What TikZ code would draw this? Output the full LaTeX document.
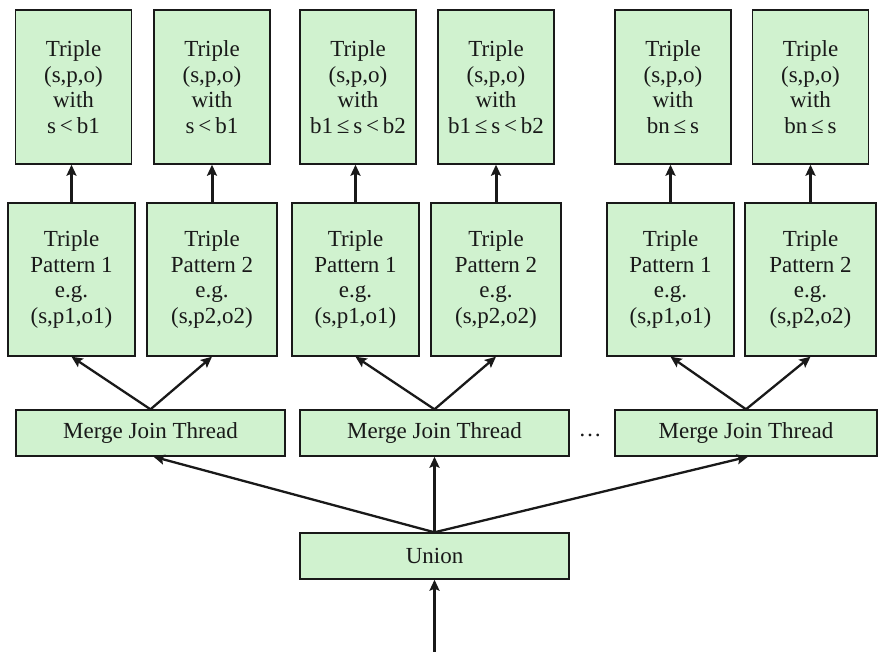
\documentclass[tikz,border=0pt]{standalone}
\usepackage{fontspec}
\setmainfont{Liberation Serif}
\usetikzlibrary{arrows.meta}
\definecolor{boxgreen}{RGB}{208,242,207}
\definecolor{ink}{RGB}{25,25,25}
\tikzset{
  box/.style={draw=ink, line width=0.7pt, fill=boxgreen, inner sep=0pt,
    align=center, font=\fontsize{11.5}{12.75}\selectfont, text=ink},
  tbox/.style={box, minimum width=58pt, minimum height=77pt},
  pbox/.style={box, minimum height=76.5pt},
  wbox/.style={box, minimum width=134.5pt, minimum height=23pt},
  link/.style={draw=ink, line width=1.5pt, -{Stealth[length=5.5pt,width=5pt,inset=1pt]}},
  thinlink/.style={link, line width=1.15pt}
}
\begin{document}
\begin{tikzpicture}[x=0.5pt, y=-0.5pt]
\useasboundingbox (0,0) rectangle (878,652);

% result triples
\node[tbox] (t1) at (73.5,87) {Triple\\(s,p,o)\\with\\s\,<\,b1};
\node[tbox] (t2) at (212,87) {Triple\\(s,p,o)\\with\\s\,<\,b1};
\node[tbox] (t3) at (358,87) {Triple\\(s,p,o)\\with\\b1\,≤\,s\,<\,b2};
\node[tbox] (t4) at (496,87) {Triple\\(s,p,o)\\with\\b1\,≤\,s\,<\,b2};
\node[tbox] (t5) at (673,87) {Triple\\(s,p,o)\\with\\bn\,≤\,s};
\node[tbox] (t6) at (810.5,87) {Triple\\(s,p,o)\\with\\bn\,≤\,s};

% triple patterns
\node[pbox, minimum width=63.5pt] (p1) at (71.5,279.5) {Triple\\Pattern 1\\e.g.\\(s,p1,o1)};
\node[pbox, minimum width=65pt]   (p2) at (212,279.5)  {Triple\\Pattern 2\\e.g.\\(s,p2,o2)};
\node[pbox, minimum width=63.5pt] (p3) at (355.5,279.5) {Triple\\Pattern 1\\e.g.\\(s,p1,o1)};
\node[pbox, minimum width=65pt]   (p4) at (496,279.5)  {Triple\\Pattern 2\\e.g.\\(s,p2,o2)};
\node[pbox, minimum width=63.5pt] (p5) at (670.5,279.5) {Triple\\Pattern 1\\e.g.\\(s,p1,o1)};
\node[pbox, minimum width=65.5pt] (p6) at (810.5,279.5) {Triple\\Pattern 2\\e.g.\\(s,p2,o2)};

% merge join threads
\node[wbox] (m1) at (150.5,433) {Merge Join Thread};
\node[wbox] (m2) at (434.5,433) {Merge Join Thread};
\node[wbox, minimum width=131pt] (m3) at (746,433) {Merge Join Thread};
\node[font=\fontsize{11.5}{12.75}\selectfont, text=ink, inner sep=0pt] (dots) at (590,435) {…};

% union
\node[wbox] (u) at (434.5,556) {Union};
\coordinate (in) at (434.5,652);

% pattern -> triple
\foreach \i in {1,...,6} {
  \draw[link] (p\i.north) -- (p\i.north |- t\i.south);
}
% merge -> patterns
\draw[thinlink] (m1.north) -- (p1.south);
\draw[thinlink] (m1.north) -- (p2.south);
\draw[thinlink] (m2.north) -- (p3.south);
\draw[thinlink] (m2.north) -- (p4.south);
\draw[thinlink] (m3.north) -- (p5.south);
\draw[thinlink] (m3.north) -- (p6.south);
% union -> merge threads
\draw[thinlink] (u.north) -- ([xshift=1.5pt]m1.south);
\draw[link] (u.north) -- (m2.south);
\draw[thinlink] (u.north) -- ([xshift=1pt]m3.south);
% input -> union
\draw[link] (in) -- (u.south);
\end{tikzpicture}
\end{document}
